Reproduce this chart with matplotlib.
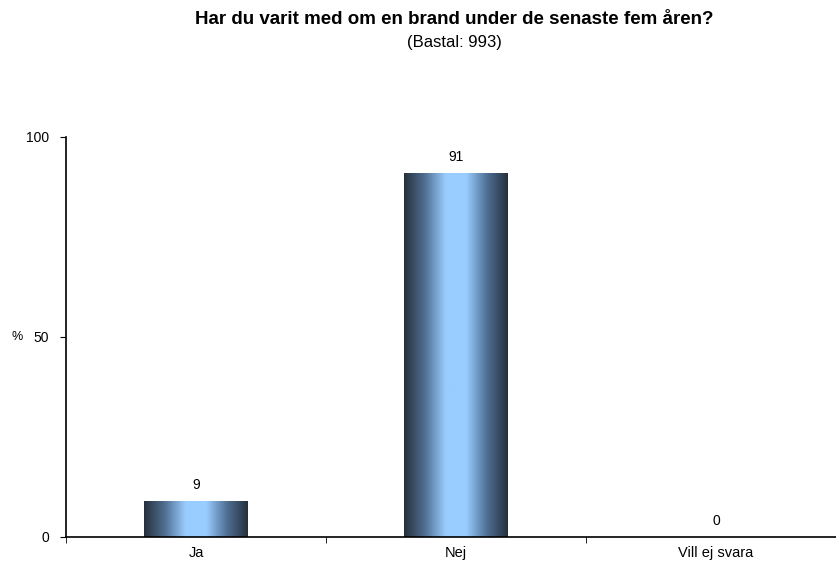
import matplotlib.pyplot as plt
import numpy as np
from matplotlib.colors import LinearSegmentedColormap

# data
categories = ["Ja", "Nej", "Vill ej svara"]
values = [9, 91, 0]
yticks = [0, 50, 100]

plt.rcParams['font.family'] = ['Liberation Sans', 'DejaVu Sans']

fig = plt.figure(figsize=(8.37, 5.62), dpi=100)
ax = fig.add_axes([66 / 837, 1 - 537 / 562, 780 / 837, 400 / 562])

x = np.arange(len(categories))
bars = ax.bar(x, values, width=0.4, color='none', edgecolor='none')

# gradient: dark edges, light blue centre
cmap = LinearSegmentedColormap.from_list(
    "cyl", ["#26303d", "#4f6f93", "#99ccff", "#99ccff", "#4f6f93", "#26303d"])
grad = np.linspace(0, 1, 256).reshape(1, -1)
for b in bars:
    if b.get_height() <= 0:
        continue
    x0, w, h = b.get_x(), b.get_width(), b.get_height()
    im = ax.imshow(grad, cmap=cmap, aspect='auto', extent=[x0, x0 + w, 0, h],
                   zorder=2, interpolation='bicubic')
    im.set_clip_path(b)

for xi, v in zip(x, values):
    ax.text(xi, v + 2.2, str(v), ha='center', va='bottom', fontsize=10)

ax.set_xlim(-0.5, len(categories) - 0.5)
ax.set_ylim(0, 100)
ax.set_yticks(yticks)
ax.set_xticks(x)
ax.set_xticklabels(categories, fontsize=10.5)
ax.set_xticks(np.arange(len(categories) + 1) - 0.5, minor=True)
ax.tick_params(axis='x', which='major', length=0, pad=6.5)
ax.tick_params(axis='x', which='minor', length=4, direction='out')
ax.tick_params(axis='y', length=4, direction='out', labelsize=10, pad=8)

for s in ['top', 'right']:
    ax.spines[s].set_visible(False)
ax.spines['left'].set_linewidth(1.2)
ax.spines['bottom'].set_linewidth(1.2)

fig.text(17 / 837, 1 - 337 / 562, '%', ha='center', va='center', fontsize=9)
fig.text(454 / 837, 1 - 20 / 562, 'Har du varit med om en brand under de senaste fem åren?',
         ha='center', va='center', fontsize=13.5, fontweight='bold')
fig.text(454 / 837, 1 - 43 / 562, '(Bastal: 993)', ha='center', va='center', fontsize=12)

fig.savefig('out.png', dpi=100)
